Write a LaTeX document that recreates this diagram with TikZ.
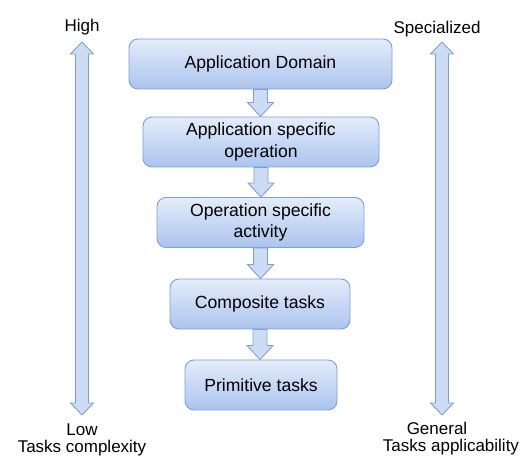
\documentclass[tikz,border=0pt]{standalone}
\usepackage{fontspec}
\setmainfont{Liberation Sans}
\usepackage{tikz}
\usetikzlibrary{calc}

\definecolor{boxtop}{HTML}{E4ECFA}
\definecolor{boxbot}{HTML}{ABC4EE}
\definecolor{boxline}{HTML}{7F9ED4}
\definecolor{arrfill}{HTML}{CCDCF5}

\tikzset{
  level/.style={rectangle, rounded corners=9pt, draw=boxline, line width=0.9pt,
    top color=boxtop, bottom color=boxbot, align=center, minimum height=50pt,
    font=\fontsize{17.6}{21.5}\selectfont},
  blockarrow/.style={draw=boxline, fill=arrfill, line width=0.9pt, line join=miter},
  scalelabel/.style={font=\fontsize{17}{19}\selectfont, inner sep=0pt,
    text height=12pt, text depth=3pt}
}

\newcommand\blockdown[2]{%
  \draw[blockarrow] let \p1=(#1), \p2=(#2) in
    (\x1-7pt,\y1) -- (\x1+7pt,\y1) -- (\x1+7pt,\y2+14pt) -- (\x1+13pt,\y2+14pt)
    -- (\x1,\y2) -- (\x1-13pt,\y2+14pt) -- (\x1-7pt,\y2+14pt) -- cycle;}
\newcommand\blockboth[2]{%
  \draw[blockarrow] let \p1=(#1), \p2=(#2) in
    (\x1,\y1) -- (\x1+11.5pt,\y1-12pt) -- (\x1+6.5pt,\y1-12pt) -- (\x1+6.5pt,\y2+12pt)
    -- (\x1+11.5pt,\y2+12pt) -- (\x1,\y2) -- (\x1-11.5pt,\y2+12pt) -- (\x1-6.5pt,\y2+12pt)
    -- (\x1-6.5pt,\y1-12pt) -- (\x1-11.5pt,\y1-12pt) -- cycle;}

\begin{document}
\begin{tikzpicture}[x=1pt, y=1pt]
\useasboundingbox (0,0) rectangle (528,458);

\node[level, minimum width=263pt] (domain) at (260.5,394) {Application Domain};
\node[level, minimum width=236pt] (operation) at (261,316) {Application specific\\operation};
\node[level, minimum width=207pt] (activity) at (260.5,235.5) {Operation specific\\activity};
\node[level, minimum width=180pt] (composite) at (260,154) {Composite tasks};
\node[level, minimum width=152pt] (primitive) at (261,73) {Primitive tasks};

\blockdown{domain.south}{operation.north}
\blockdown{operation.south}{activity.north}
\blockdown{activity.south}{composite.north}
\blockdown{composite.south}{primitive.north}

\node[scalelabel] (high) at (82,431) {High};
\node[scalelabel] (low) at (82,27) {Low};
\node[scalelabel] (cplx) at (82,9.5) {Tasks complexity};
\coordinate (cplxtop) at (82,416);
\coordinate (cplxbot) at (82,43);
\blockboth{cplxtop}{cplxbot}

\node[scalelabel] (special) at (437,429) {Specialized};
\node[scalelabel] (general) at (437,28) {General};
\node[scalelabel] (appl) at (451,11) {Tasks applicability};
\coordinate (appltop) at (442,416);
\coordinate (applbot) at (442,43);
\blockboth{appltop}{applbot}
\end{tikzpicture}
\end{document}
